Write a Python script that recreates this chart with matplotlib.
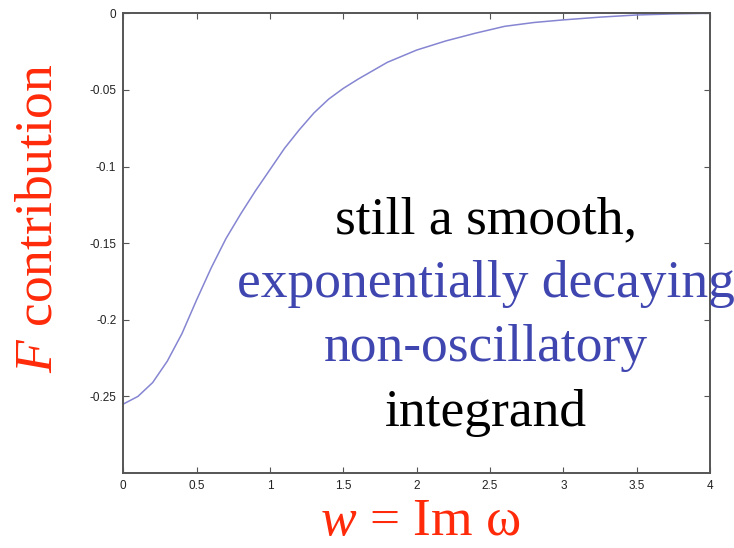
import matplotlib
matplotlib.use("Agg")
import matplotlib.pyplot as plt

# Data
w_vals = [0, 0.1, 0.2, 0.3, 0.4, 0.5, 0.6, 0.7, 0.8, 0.9, 1.0, 1.1, 1.2, 1.3, 1.4,
          1.5, 1.6, 1.8, 2.0, 2.2, 2.4, 2.6, 2.8, 3.0, 3.25, 3.5, 3.75, 4.0]
f_vals = [-0.255, -0.250, -0.241, -0.227, -0.209, -0.187, -0.166, -0.147, -0.131,
          -0.116, -0.102, -0.088, -0.076, -0.065, -0.056, -0.049, -0.043, -0.032,
          -0.024, -0.018, -0.013, -0.0085, -0.006, -0.0043, -0.0025, -0.0011,
          -0.0004, 0.0]
xticks = [0, 0.5, 1, 1.5, 2, 2.5, 3, 3.5, 4]
xticklabels = ["0", "0.5", "1", "1.5", "2", "2.5", "3", "3.5", "4"]
yticks = [0, -0.05, -0.1, -0.15, -0.2, -0.25]
yticklabels = ["0", "-0.05", "-0.1", "-0.15", "-0.2", "-0.25"]
annot_lines = ["still a smooth,", "exponentially decaying", "non-oscillatory", "integrand"]
annot_colors = ["black", "#4046b0", "#4046b0", "black"]

plt.rcParams['mathtext.fontset'] = 'custom'
plt.rcParams['mathtext.rm'] = 'Liberation Serif'
plt.rcParams['mathtext.it'] = 'Liberation Serif:italic'

W, H = 734, 548
fig = plt.figure(figsize=(7.34, 5.48), dpi=100)
ax = fig.add_axes([123.3 / W, 1 - 473 / H, (710 - 123.3) / W, (473 - 13.3) / H])
ax.plot(w_vals, f_vals, color="#8585d2", lw=1.1)
ax.set_xlim(0, 4)
ax.set_ylim(-0.3, 0)
ax.set_xticks(xticks)
ax.set_xticklabels(xticklabels, fontsize=8.5, family="Liberation Sans", color="#222222")
ax.set_yticks(yticks)
ax.set_yticklabels(yticklabels, fontsize=8.5, family="Liberation Sans", color="#222222")
ax.tick_params(direction="in", length=4, top=True, right=True, width=0.8,
               color="#555555", pad=5)
for s in ax.spines.values():
    s.set_color("#555555")
    s.set_linewidth(1.4)

red = "#ff2a0a"
fig.text(52 / W, 1 - 218.5 / H, r"$F$ contribution", fontsize=38.5,
         family="Liberation Serif", color=red, rotation=90,
         rotation_mode="anchor", ha="center", va="baseline")
fig.text(420 / W, 1 - 535 / H, r"$w$ = Im ω", fontsize=38.5,
         family="Liberation Serif", color=red, ha="center", va="baseline")

ys_px = [233, 297, 361, 426]
for txt, col, yp in zip(annot_lines, annot_colors, ys_px):
    fig.text(486 / W, 1 - yp / H, txt, fontsize=38.5, family="Liberation Serif",
             color=col, ha="center", va="baseline")

fig.savefig("out.png", dpi=100)
